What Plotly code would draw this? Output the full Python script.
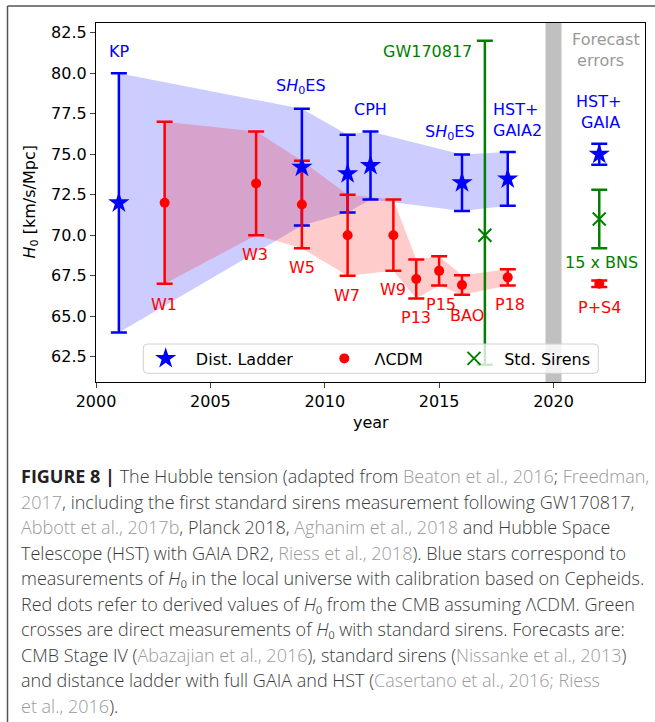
import plotly.graph_objects as go

# ---------------- data ----------------
# Distance ladder (blue stars)
dl_year = [2001, 2009, 2011, 2012, 2016, 2018]
dl_h0 = [72.0, 74.2, 73.8, 74.3, 73.24, 73.48]
dl_err = [8.0, 3.6, 2.4, 2.1, 1.74, 1.66]
dl_fc_year = [2022]
dl_fc_h0 = [75.0]
dl_fc_err = [0.65]

# LCDM from CMB (red dots)
cmb_year = [2003, 2007, 2009, 2011, 2013, 2014, 2015, 2016, 2018]
cmb_h0 = [72.0, 73.2, 71.9, 70.0, 70.0, 67.3, 67.8, 66.93, 67.4]
cmb_err = [5.0, 3.2, 2.7, 2.5, 2.2, 1.2, 0.9, 0.6, 0.5]
cmb_fc_year = [2022]
cmb_fc_h0 = [67.0]
cmb_fc_err = [0.2]

# Standard sirens (green crosses)
ss_year = [2017, 2022]
ss_h0 = [70.0, 71.0]
ss_err_up = [12.0, 1.8]
ss_err_dn = [8.0, 1.8]

# labels (text, x, y, colour, anchor)
labels = [
    ("KP", 2001, 81.33, "blue", "center"),
    ("S<i>H</i><sub>0</sub>ES", 2008.97, 79.17, "blue", "center"),
    ("CPH", 2012, 77.77, "blue", "center"),
    ("S<i>H</i><sub>0</sub>ES", 2015.47, 76.33, "blue", "center"),
    ("HST+<br>GAIA2", 2017.28, 77.1, "blue", "left"),
    ("HST+<br>\u00a0GAIA", 2020.89, 77.6, "blue", "left"),
    ("GW170817", 2014.5, 81.33, "green", "center"),
    ("Forecast<br>\u00a0errors", 2020.73, 81.43, "#999999", "left"),
    ("W1", 2002.96, 65.75, "red", "center"),
    ("W3", 2006.97, 68.84, "red", "center"),
    ("W5", 2009.0, 68.0, "red", "center"),
    ("W7", 2010.96, 66.3, "red", "center"),
    ("W9", 2013.0, 66.66, "red", "center"),
    ("P13", 2014.0, 64.93, "red", "center"),
    ("P15", 2015.1, 65.7, "red", "center"),
    ("BAO", 2016.2, 65.07, "red", "center"),
    ("P18", 2018.1, 65.7, "red", "center"),
    ("P+S4", 2022.0, 65.55, "red", "center"),
    ("15 x BNS", 2022.1, 68.3, "green", "center"),
]

legend_names = ["Dist. Ladder", "\u039bCDM", "Std. Sirens"]

x_ticks = [2000, 2005, 2010, 2015, 2020]
y_ticks = [62.5, 65.0, 67.5, 70.0, 72.5, 75.0, 77.5, 80.0, 82.5]


def g(s):
    return '<span style="color:#9a9a9a">' + s + '</span>'


HI = "<i>H</i>\u2080"
caption_lines = [
    '<b><span style="color:#222222">FIGURE 8 |</span></b> The Hubble tension (adapted from ' + g("Beaton et al., 2016") + "; " + g("Freedman,"),
    g("2017") + ", including the first standard sirens measurement following GW170817,",
    g("Abbott et al., 2017b") + ", Planck 2018, " + g("Aghanim et al., 2018") + " and Hubble Space",
    "Telescope (HST) with GAIA DR2, " + g("Riess et al., 2018") + "). Blue stars correspond to",
    "measurements of " + HI + " in the local universe with calibration based on Cepheids.",
    "Red dots refer to derived values of " + HI + " from the CMB assuming \u039bCDM. Green",
    "crosses are direct measurements of " + HI + " with standard sirens. Forecasts are:",
    "CMB Stage IV (" + g("Abazajian et al., 2016") + "), standard sirens (" + g("Nissanke et al., 2013") + ")",
    "and distance ladder with full GAIA and HST (" + g("Casertano et al., 2016; Riess"),
    g("et al., 2016") + ").",
]

# ---------------- geometry ----------------
W, H = 655, 722
L, R, T, B = 96, 10, 23, 340
PW, PH = W - L - R, H - T - B


def px_x(px):
    return (px - L) / PW


def px_y(py):
    return (H - B - py) / PH


FONT = "DejaVu Sans"
fig = go.Figure()

# shaded bands
dl_hi = [v + e for v, e in zip(dl_h0, dl_err)]
dl_lo = [v - e for v, e in zip(dl_h0, dl_err)]
fig.add_trace(go.Scatter(x=dl_year + dl_year[::-1], y=dl_hi + dl_lo[::-1], fill="toself",
                         fillcolor="rgba(0,0,255,0.2)", line=dict(width=0), mode="lines",
                         showlegend=False, hoverinfo="skip"))
cmb_hi = [v + e for v, e in zip(cmb_h0, cmb_err)]
cmb_lo = [v - e for v, e in zip(cmb_h0, cmb_err)]
fig.add_trace(go.Scatter(x=cmb_year + cmb_year[::-1], y=cmb_hi + cmb_lo[::-1], fill="toself",
                         fillcolor="rgba(255,0,0,0.2)", line=dict(width=0), mode="lines",
                         showlegend=False, hoverinfo="skip"))

# error bars (drawn first, markers on top)
series = [
    (dl_year + dl_fc_year, dl_h0 + dl_fc_h0, dl_err + dl_fc_err, dl_err + dl_fc_err, "blue"),
    (cmb_year + cmb_fc_year, cmb_h0 + cmb_fc_h0, cmb_err + cmb_fc_err, cmb_err + cmb_fc_err, "red"),
    (ss_year, ss_h0, ss_err_up, ss_err_dn, "green"),
]
for xs, ys, eu, ed, col in series:
    fig.add_trace(go.Scatter(x=xs, y=ys, mode="markers",
                             marker=dict(size=1, color="rgba(0,0,0,0)"),
                             error_y=dict(type="data", symmetric=False, array=eu, arrayminus=ed,
                                          color=col, thickness=2.5, width=8),
                             showlegend=False, hoverinfo="skip"))

# markers
fig.add_trace(go.Scatter(x=dl_year + dl_fc_year, y=dl_h0 + dl_fc_h0, mode="markers",
                         name="\u00a0\u00a0" + legend_names[0], legend="legend",
                         marker=dict(symbol="star", size=16, color="blue", line=dict(width=0))))
fig.add_trace(go.Scatter(x=cmb_year + cmb_fc_year, y=cmb_h0 + cmb_fc_h0, mode="markers",
                         name="\u00a0\u00a0" + legend_names[1], legend="legend2",
                         marker=dict(symbol="circle", size=10, color="red", line=dict(width=0))))
fig.add_trace(go.Scatter(x=ss_year, y=ss_h0, mode="markers",
                         name="\u00a0\u00a0" + legend_names[2], legend="legend3",
                         marker=dict(symbol="x-thin", size=13, color="green",
                                     line=dict(width=2, color="green"))))

# text labels
for txt, x, y, col, anc in labels:
    fig.add_annotation(x=x, y=y, xref="x", yref="y", text=txt, showarrow=False,
                       xanchor=anc, yanchor="middle", align="left",
                       font=dict(family=FONT, size=16, color=col))

# axis titles
fig.add_annotation(x=0.5, y=px_y(422.7), xref="paper", yref="paper", text="year",
                   showarrow=False, xanchor="center", yanchor="middle",
                   font=dict(family=FONT, size=16, color="black"))
fig.add_annotation(x=px_x(30), y=0.5, xref="paper", yref="paper",
                   text="<i>H</i><sub>0</sub> [km/s/Mpc]", textangle=-90,
                   showarrow=False, xanchor="center", yanchor="middle",
                   font=dict(family=FONT, size=16, color="black"))

# caption
for i, line in enumerate(caption_lines):
    fig.add_annotation(x=px_x(19), y=px_y(476 + 25.5 * i), xref="paper", yref="paper",
                       text=line, showarrow=False, xanchor="left", yanchor="middle",
                       align="left", font=dict(family="Open Sans", size=18, weight=300, color="#3a3a3a"))

# shapes: forecast separator, legend box, outer frame
fig.add_shape(type="rect", xref="x", yref="paper", x0=2019.65, x1=2020.35, y0=0, y1=1,
              fillcolor="#c0c0c0", line=dict(width=0), layer="below")

x0, x1 = px_x(143.3), px_x(598.3)
y0, y1 = px_y(373.3), px_y(344)
rx, ry = 4 / PW, 4 / PH
path = (f"M {x0+rx},{y0} L {x1-rx},{y0} Q {x1},{y0} {x1},{y0+ry} L {x1},{y1-ry} "
        f"Q {x1},{y1} {x1-rx},{y1} L {x0+rx},{y1} Q {x0},{y1} {x0},{y1-ry} "
        f"L {x0},{y0+ry} Q {x0},{y0} {x0+rx},{y0} Z")
fig.add_shape(type="path", xref="paper", yref="paper", path=path,
              fillcolor="rgba(255,255,255,0.8)", line=dict(color="#d0d0d0", width=1), layer="above")

fx, fy = px_x(7.5), px_y(6)
fig.add_shape(type="line", xref="paper", yref="paper", x0=fx, y0=fy, x1=fx, y1=px_y(722),
              line=dict(color="#555555", width=1.5))
fig.add_shape(type="line", xref="paper", yref="paper", x0=fx, y0=fy, x1=px_x(660), y1=fy,
              line=dict(color="#555555", width=1.5))

legend_common = dict(bgcolor="rgba(0,0,0,0)", borderwidth=0, yanchor="middle", xanchor="left",
                     font=dict(family=FONT, size=16, color="black"), y=px_y(358.5))
fig.update_layout(
    width=W, height=H, autosize=False,
    margin=dict(l=L, r=R, t=T, b=B),
    paper_bgcolor="white", plot_bgcolor="white",
    font=dict(family=FONT, size=16, color="black"),
    xaxis=dict(range=[2000, 2024], tickvals=x_ticks, ticks="outside", ticklen=5, tickwidth=1.2,
               showline=True, mirror=True, linecolor="black", linewidth=1.3, showgrid=False,
               zeroline=False, tickfont=dict(family=FONT, size=16, color="black")),
    yaxis=dict(range=[60.94, 83.1], tickvals=y_ticks, tickformat=".1f", ticks="outside",
               ticklen=5, tickwidth=1.2, showline=True, mirror=True, linecolor="black",
               linewidth=1.3, showgrid=False, zeroline=False,
               tickfont=dict(family=FONT, size=16, color="black")),
    legend=dict(x=px_x(165.7 - 20), **legend_common),
    legend2=dict(x=px_x(344.3 - 20), **legend_common),
    legend3=dict(x=px_x(474 - 20), **legend_common),
)

fig.write_html("out.html")
